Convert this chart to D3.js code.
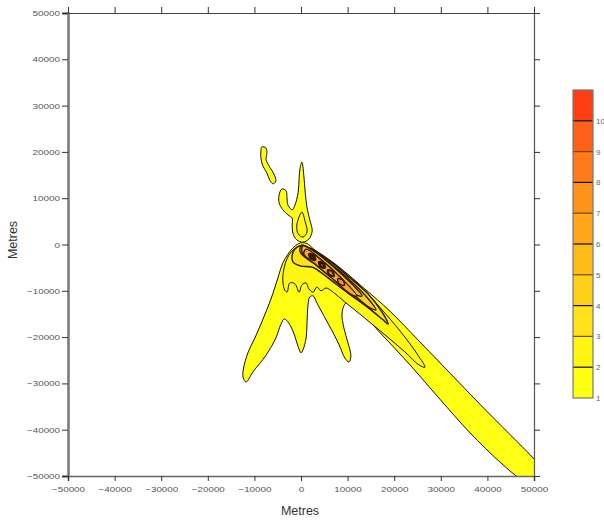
<!DOCTYPE html>
<html><head><meta charset="utf-8">
<script src="https://cdn.jsdelivr.net/npm/d3@7"></script>
<style>body{margin:0;background:#fff}</style>
</head><body><svg id="c" width="604" height="521"></svg>
<script>
// ---------- data (metres) ----------
const xTicks = [-50000,-40000,-30000,-20000,-10000,0,10000,20000,30000,40000,50000];
const yTicks = [-50000,-40000,-30000,-20000,-10000,0,10000,20000,30000,40000,50000];
const levels = [1,2,3,4,5,6,7,8,9,10,11];
const levelLabels = ["1","2","3","4","5","6","7","8","9","10"];
const bandColors = ["#ffff14","#fff614","#ffe21a","#ffd01a","#ffbb1a","#ffa61a","#ff921a","#ff7a1a","#ff601a","#ff3e14"];

// level 1: lobe + plume
const l1Plume = [[-200,300],[1100,300],[3000,-1200],[8400,-5100],[13700,-9600],[19100,-14400],[25100,-20600],[32000,-27800],[38400,-34500],[44900,-41100],[49800,-46100],[53900,-50900],[51300,-53000],[47400,-50900],[42700,-47000],[36300,-40700],[29800,-33400],[23400,-26000],[17000,-19100],[10500,-12200],[9400,-12900],[8800,-15000],[9200,-18000],[10100,-21300],[10700,-24100],[10300,-25400],[9400,-24500],[8200,-21700],[6700,-18700],[4900,-15400],[3400,-12600],[2600,-11100],[1900,-11300],[1500,-13100],[1300,-16700],[1100,-20200],[400,-22800],[0,-23400],[-600,-22100],[-1500,-19300],[-2600,-17000],[-3600,-16100],[-4300,-17200],[-5400,-20200],[-7500,-23900],[-10300,-27500],[-11800,-29700],[-12400,-28800],[-12400,-27100],[-11400,-23400],[-9900,-20200],[-8400,-16700],[-7100,-13500],[-6000,-10500],[-4900,-7000],[-3900,-4000],[-2800,-2100],[-1500,-500]];
// level 1: northern spike with blob
const l1Spike = [[200,17800],[600,15000],[900,11300],[1300,7900],[1900,5300],[2400,2900],[1700,1200],[400,500],[-900,1000],[-1700,2300],[-1900,4000],[-1900,5700],[-2800,6400],[-3900,7500],[-4700,9000],[-4700,10700],[-4100,12000],[-3200,11600],[-3000,10000],[-2800,8500],[-1900,7500],[-1300,8500],[-600,11300],[-400,14400],[-200,16500]];
// level 1: squiggle to the north-west
const l1Squiggle = [[-8400,21100],[-7500,20800],[-7300,19800],[-7500,18300],[-6700,16700],[-5800,15200],[-5400,13700],[-6000,13100],[-6700,13900],[-7300,15400],[-8200,17000],[-8600,18700],[-8600,20200]];
// level 2
const l2Plume = [[-200,-300],[2400,-1000],[7300,-4200],[12700,-9000],[18000,-14800],[22300,-20000],[25100,-23900],[26600,-26500],[25300,-26000],[22300,-23200],[18000,-19500],[13700,-15900],[9400,-12400],[6900,-10300],[5400,-9400],[4300,-10000],[3400,-9200],[2600,-10300],[1700,-9600],[1100,-8300],[200,-8700],[-400,-10300],[-1300,-8500],[-2400,-8300],[-3000,-10300],[-3600,-9600],[-3900,-7000],[-3400,-4200],[-2600,-2300],[-1500,-1000]];
const l2Spike = [[200,7000],[900,4900],[1300,2700],[400,1600],[-600,2300],[-900,4200]];
// level 3
const l3Core = [[-200,-300],[1900,-800],[6200,-3600],[10500,-7200],[14400,-10700],[17400,-14600],[18700,-17200],[17400,-16100],[13700,-13100],[10100,-10500],[6700,-7900],[4100,-5900],[2400,-4900],[-200,-4600],[-1700,-3800],[-1900,-2300],[-1300,-1000]];
// level 4
const l4Core = [[200,-100],[2400,-1200],[6200,-4000],[10500,-7700],[13900,-11100],[16100,-14100],[14800,-13700],[10900,-10500],[7100,-7200],[3600,-4600],[1100,-2900],[-200,-1600]];
// level 5
const l5Core = [[400,-300],[3000,-1600],[7300,-5100],[10900,-8500],[13100,-11100],[11800,-10900],[7900,-7900],[4500,-5100],[1500,-2900],[200,-1600]];
// level 6
const l6Core = [[1100,-1000],[4100,-3100],[8400,-7000],[12000,-11100],[10900,-10900],[7100,-7700],[3200,-4400],[600,-2100]];
// level 7 spots
const l7SpotA = [[3100,-3400],[2800,-2300],[1700,-2000],[2000,-3100]];
const l7SpotB = [[5200,-5100],[4900,-4000],[3800,-3700],[4100,-4800]];
const l7SpotC = [[7100,-6900],[6800,-5800],[5700,-5500],[6000,-6600]];
const l7SpotD = [[9300,-8800],[9000,-7700],[7900,-7400],[8200,-8500]];
// level 8 spots
const l8SpotA = [[2900,-3200],[2700,-2400],[1900,-2200],[2100,-3000]];
const l8SpotB = [[5000,-4900],[4800,-4100],[4000,-3900],[4200,-4700]];
const l8SpotC = [[6900,-6700],[6700,-5900],[5900,-5700],[6100,-6500]];
// level 9 spots
const l9SpotA = [[2750,-3050],[2600,-2500],[2050,-2350],[2200,-2900]];
const l9SpotB = [[4850,-4750],[4700,-4200],[4150,-4050],[4300,-4600]];
// level 10 spot
const l10SpotA = [[2650,-2950],[2550,-2550],[2150,-2450],[2250,-2850]];

const contours = [
  {level:1, pts:l1Plume},{level:1, pts:l1Spike},{level:1, pts:l1Squiggle},
  {level:2, pts:l2Plume},{level:2, pts:l2Spike},
  {level:3, pts:l3Core},{level:4, pts:l4Core},{level:5, pts:l5Core},{level:6, pts:l6Core},
  {level:7, pts:l7SpotA},{level:7, pts:l7SpotB},{level:7, pts:l7SpotC},{level:7, pts:l7SpotD},
  {level:8, pts:l8SpotA},{level:8, pts:l8SpotB},{level:8, pts:l8SpotC},
  {level:9, pts:l9SpotA},{level:9, pts:l9SpotB},
  {level:10, pts:l10SpotA}
];

// ---------- layout ----------
const svg = d3.select("#c");
const L = 68, R = 534, T = 13, B = 476;
const x = d3.scaleLinear().domain([-50000,50000]).range([L,R]);
const y = d3.scaleLinear().domain([-50000,50000]).range([B,T]);

svg.append("clipPath").attr("id","clip").append("rect")
  .attr("x",L).attr("y",T).attr("width",R-L).attr("height",B-T);

const color = d3.scaleOrdinal().domain(levels.slice(0,10)).range(bandColors);
const line = d3.line().x(d=>x(d[0])).y(d=>y(d[1])).curve(d3.curveCatmullRomClosed.alpha(0.5));

svg.append("g").attr("clip-path","url(#clip)")
  .selectAll("path").data(contours).join("path")
  .attr("d", d=>line(d.pts))
  .attr("fill", d=>color(d.level))
  .attr("stroke", d=> d.level>=3 ? "#2a1800" : "#111")
  .attr("stroke-width", d=> d.level>=3 ? 1.4 : 1)
  .attr("stroke-linejoin","round");

// ---------- axes ----------
const fmt = d3.format("d");
function styleTicks(g){
  g.selectAll(".tick line").attr("stroke","#333");
  g.selectAll(".tick text")
    .attr("fill","#555")
    .style("font-family","'Liberation Sans', Arial, sans-serif")
    .style("font-size","8px")
    .each(function(){
      const t = d3.select(this);
      const n = t.text().length;
      t.attr("textLength", n*5.5).attr("lengthAdjust","spacingAndGlyphs");
    });
}
const gL = svg.append("g").attr("transform",`translate(${L},0)`)
  .call(d3.axisLeft(y).tickValues(yTicks).tickFormat(fmt).tickSize(6).tickPadding(2));
gL.select(".domain").attr("stroke","#777").attr("stroke-width",2.5);
styleTicks(gL);

const gB = svg.append("g").attr("transform",`translate(0,${B})`)
  .call(d3.axisBottom(x).tickValues(xTicks).tickFormat(fmt).tickSize(5).tickPadding(5));
gB.select(".domain").attr("stroke","#666").attr("stroke-width",1.6);
styleTicks(gB);

const gT = svg.append("g").attr("transform",`translate(0,${T})`)
  .call(d3.axisTop(x).tickValues(xTicks).tickFormat("").tickSize(6));
gT.select(".domain").attr("stroke","#444").attr("stroke-width",1);
gT.selectAll(".tick line").attr("stroke","#333");

const gR = svg.append("g").attr("transform",`translate(${R},0)`)
  .call(d3.axisRight(y).tickValues(yTicks).tickFormat("").tickSize(6));
gR.select(".domain").attr("stroke","#555").attr("stroke-width",1.2);
gR.selectAll(".tick line").attr("stroke","#333");

svg.append("text").attr("x",300).attr("y",515).attr("text-anchor","middle")
  .style("font-family","'Liberation Sans', Arial, sans-serif").style("font-size","12.5px")
  .attr("fill","#333").text("Metres");
svg.append("text").attr("transform","translate(17,240) rotate(-90)").attr("text-anchor","middle")
  .style("font-family","'Liberation Sans', Arial, sans-serif").style("font-size","12.5px")
  .attr("fill","#333").text("Metres");

// ---------- colour bar ----------
const cbX = 573, cbW = 20;
const cy = d3.scaleLinear().domain([1,11]).range([398,90]);
const cb = svg.append("g");
cb.selectAll("rect.band").data(levels.slice(0,10)).join("rect")
  .attr("class","band")
  .attr("x",cbX).attr("width",cbW)
  .attr("y",d=>cy(d+1)).attr("height",d=>cy(d)-cy(d+1))
  .attr("fill",d=>color(d));
cb.selectAll("line.sep").data(levels.slice(1,10)).join("line")
  .attr("class","sep")
  .attr("x1",cbX).attr("x2",cbX+cbW)
  .attr("y1",d=>cy(d)).attr("y2",d=>cy(d))
  .attr("stroke",(d,i)=> i%2===0 ? "#111" : "#6b4a12").attr("stroke-width",1.2);
cb.append("rect").attr("x",cbX).attr("y",cy(11)).attr("width",cbW).attr("height",cy(1)-cy(11))
  .attr("fill","none").attr("stroke","#777").attr("stroke-width",1.2);
cb.selectAll("text").data(levelLabels).join("text")
  .attr("x",cbX+cbW+3).attr("y",(d,i)=>cy(levels[i])+3)
  .attr("fill","#666")
  .style("font-family","'Liberation Sans', Arial, sans-serif").style("font-size","8px")
  .text(d=>d);
</script>
</body></html>
